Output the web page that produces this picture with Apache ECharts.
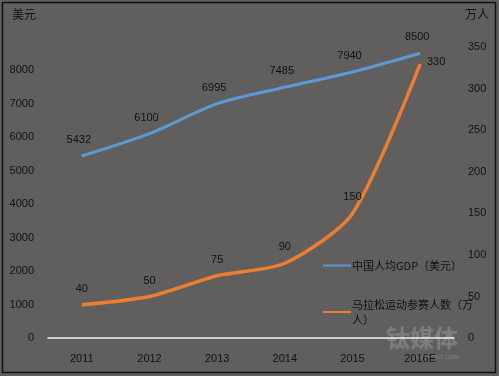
<!DOCTYPE html>
<html>
<head>
<meta charset="utf-8">
<script src="https://cdn.jsdelivr.net/npm/echarts@6/dist/echarts.min.js"></script>
<style>
  html, body { margin: 0; padding: 0; background: #605f5d; }
  #chart { width: 499px; height: 376px; }
</style>
</head>
<body>
<div id="chart"></div>
<script>
"use strict";
/** Categories along the bottom */
const years = ["2011", "2012", "2013", "2014", "2015", "2016E"];
/** GDP per capita, USD (left axis) */
const gdpValues = [5432, 6100, 6995, 7485, 7940, 8500];
/** Marathon participants, 10k people (right axis) */
const runnerValues = [40, 50, 75, 90, 150, 330];
const gdpName = "中国人均GDP（美元）";
const runnerName = "马拉松运动参赛人数（万人）";

const font = "'Liberation Sans', 'Noto Sans CJK SC', sans-serif";
const cjkFont = "'Noto Sans CJK SC', sans-serif";
const textColor = "#111";
const blue = "#5b9bd5";
const orange = "#ed7d31";

let chart = echarts.init(document.getElementById("chart"));
chart.setOption({
    backgroundColor: "#605f5d",
    animation: false,
    textStyle: { fontFamily: font },
    grid: { left: 48, right: 45, top: 36.5, bottom: 38 },
    legend: {
        orient: "vertical",
        left: 318,
        top: 253,
        itemGap: 24,
        itemWidth: 28,
        itemHeight: 2,
        icon: "rect",
        textStyle: { color: textColor, fontSize: 11, fontFamily: cjkFont, lineHeight: 15, padding: [0, 0, 0, -4] },
        formatter: (name) => name == runnerName ? "马拉松运动参赛人数（万\n人）" : name,
        data: [
            { name: gdpName, itemStyle: { color: blue } },
            { name: runnerName, itemStyle: { color: orange } }
        ]
    },
    xAxis: {
        type: "category",
        data: years,
        boundaryGap: true,
        axisLine: { lineStyle: { color: "#f4f4f4", width: 1.5 } },
        axisTick: { show: false },
        axisLabel: { color: textColor, fontSize: 11, margin: 15 }
    },
    yAxis: [
        {
            type: "value",
            name: "美元",
            nameLocation: "end",
            nameGap: 16,
            nameTextStyle: { color: textColor, fontSize: 12, align: "right", padding: [0, 12, 0, 0], fontFamily: cjkFont },
            min: 0, max: 9000, interval: 1000,
            splitLine: { show: false },
            axisLine: { show: false },
            axisTick: { show: false },
            axisLabel: { color: textColor, fontSize: 11, margin: 14, showMaxLabel: false, formatter: (v) => String(v) }
        },
        {
            type: "value",
            name: "万人",
            nameLocation: "end",
            nameGap: 16,
            nameTextStyle: { color: textColor, fontSize: 12, align: "left", padding: [0, 0, 0, 11], fontFamily: cjkFont },
            min: 0, max: 363, interval: 50,
            splitLine: { show: false },
            axisLine: { show: false },
            axisTick: { show: false },
            axisLabel: { color: textColor, fontSize: 11, margin: 14, showMaxLabel: false, formatter: (v) => String(v) }
        }
    ],
    series: [
        {
            name: gdpName,
            type: "line",
            yAxisIndex: 0,
            data: gdpValues,
            smooth: 0.25,
            symbol: "circle",
            symbolSize: 1,
            showSymbol: true,
            lineStyle: { color: blue, width: 3 },
            itemStyle: { color: "rgba(0,0,0,0)" },
            label: { show: true, position: "top", distance: 10, color: textColor, fontSize: 11, offset: [-3, 0] }
        },
        {
            name: runnerName,
            type: "line",
            yAxisIndex: 1,
            data: runnerValues,
            smooth: 0.25,
            symbol: "circle",
            symbolSize: 1,
            showSymbol: true,
            lineStyle: { color: orange, width: 3.5 },
            itemStyle: { color: "rgba(0,0,0,0)" },
            label: { show: true, position: "top", distance: 10, color: textColor, fontSize: 11, offset: [-3, 0] },
            labelLayout: (params) => params.dataIndex == runnerValues.length - 1 ? { dx: 16, dy: 14 } : {}
        }
    ],
    graphic: [
        {
            type: "rect",
            shape: { x: 2.5, y: 2.5, width: 493, height: 370 },
            style: { fill: "none", stroke: "#111", lineWidth: 1.5 },
            silent: true
        },
        {
            type: "text",
            left: 386,
            top: 326,
            style: { text: "钛媒体", fill: "rgba(230,230,230,0.22)", font: "bold 24px 'Noto Sans CJK SC'" },
            silent: true
        },
        {
            type: "text",
            left: 415,
            top: 354,
            style: { text: "TMTPOST.COM", fill: "rgba(230,230,230,0.25)", font: "6px 'Liberation Sans'" },
            silent: true
        }
    ]
});
</script>
</body>
</html>
